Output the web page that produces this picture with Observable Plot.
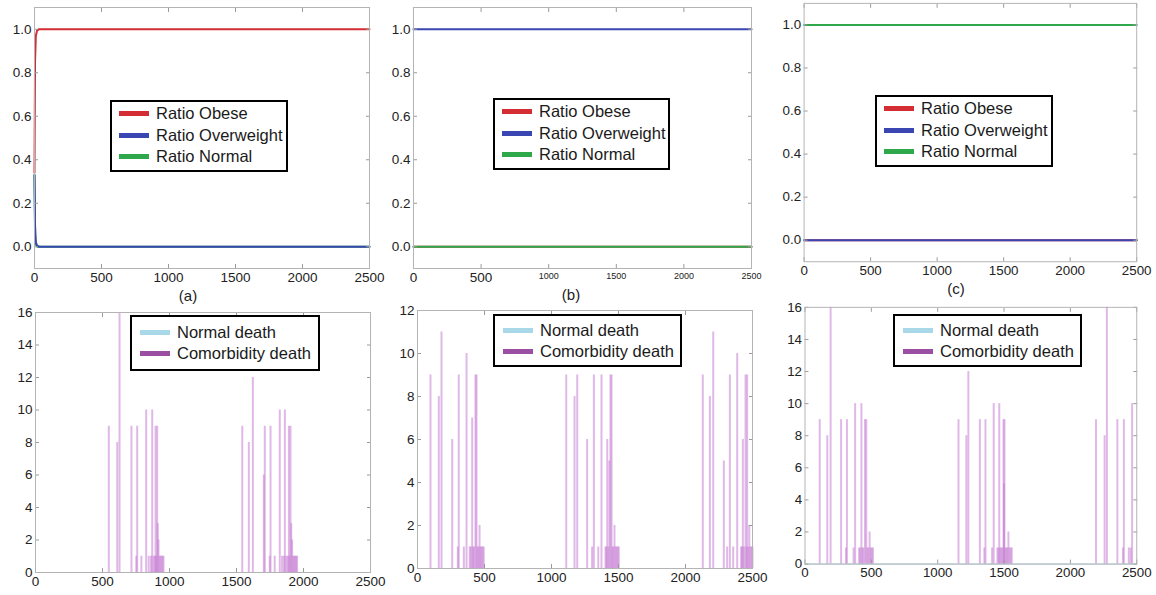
<!DOCTYPE html>
<html><head><meta charset="utf-8">
<script src="https://cdn.jsdelivr.net/npm/d3@7"></script>
<script src="https://cdn.jsdelivr.net/npm/@observablehq/plot@0.6"></script>
<style>
body{margin:0;background:#fff;}
#root{position:relative;width:1156px;height:595px;overflow:hidden;font-family:"Liberation Sans",Arial,sans-serif;}
.panel{position:absolute;}
.panel svg{overflow:visible;}
.legend{position:absolute;background:#fff;border:2px solid #000;box-sizing:border-box;font-size:16.5px;color:#1a1a1a;}
.row{position:absolute;display:flex;align-items:center;white-space:nowrap;}
.sw{display:inline-block;width:30px;height:5px;margin-right:7px;}
.cap{position:absolute;font-size:15px;color:#222;transform:translate(-50%,-50%);}
</style></head><body><div id="root"></div>
<script>
// ---------- data ----------
const ratioNames = ["Ratio Obese", "Ratio Overweight", "Ratio Normal"];
const ratioColors = ["#d42d33", "#3a47b3", "#2ea84a"];
const drawOrder = ["Ratio Obese", "Ratio Normal", "Ratio Overweight"];

const timeA = [0, 4, 10, 20, 35, 2500];
const obeseA = [0.34, 0.85, 0.97, 0.995, 1.0, 1.0];
const overweightA = [0.33, 0.10, 0.02, 0.005, 0.0, 0.0];
const normalA = [0.33, 0.05, 0.01, 0.0, 0.0, 0.0];

const timeB = [0, 2500];
const obeseB = [0, 0];
const overweightB = [1, 1];
const normalB = [0, 0];

const timeC = [0, 2500];
const obeseC = [0, 0];
const overweightC = [0, 0];
const normalC = [1, 1];

const deathNames = ["Normal death", "Comorbidity death"];
const deathColors = ["#a9d9e8", "#9b4fa3"];
const spikeColor = "#c77dd4";

const normalDeathTime = [0, 2500];
const normalDeathCount = [0, 0];

const comorbTimeA = [547,610,627,716,752,759,790,826,845,862,871,880,890,896,900,908,912,918,925,933,940,948,955,
  1543,1592,1622,1704,1711,1748,1754,1785,1823,1840,1855,1861,1872,1882,1891,1895,1903,1908,1915,1922,1930,1937,1945,1952];
const comorbCountA = [9,8,16,9,1,9,1,10,1,1,10,1,1,9,1,9,3,2,1,1,1,1,1,
  9,8,12,6,9,1,9,1,10,1,1,10,1,1,9,1,9,3,2,1,1,1,1,1];

const comorbTimeB = [97,159,179,259,301,308,346,366,390,398,408,415,423,433,440,448,455,463,470,478,486,494,
  1110,1172,1192,1266,1303,1316,1349,1373,1403,1410,1416,1425,1432,1440,1448,1455,1462,1470,1478,1486,1494,1502,
  2129,2182,2207,2286,2311,2331,2356,2386,2415,2422,2428,2436,2448,2455,2460,2468,2476,2484,2492,2500];
const comorbCountB = [9,8,11,6,1,9,1,10,1,1,7,1,1,9,9,1,1,2,1,1,1,1,
  9,8,9,6,1,9,1,9,1,1,6,1,5,9,9,1,1,2,1,1,1,1,
  9,8,11,5,1,9,1,10,1,1,6,1,9,1,9,1,2,1,1,1];

const comorbTimeC = [111,168,193,272,309,316,366,378,408,416,425,433,440,452,462,470,478,487,495,503,512,
  1157,1216,1231,1318,1352,1360,1410,1422,1450,1459,1464,1472,1480,1488,1496,1500,1503,1510,1518,1525,1533,1541,1550,1558,
  2193,2258,2275,2354,2396,2403,2440,2455,2465];
const comorbCountC = [9,8,16,9,1,9,1,10,1,1,10,1,1,9,9,1,1,2,1,1,1,
  9,8,12,9,1,9,1,10,1,1,10,1,1,1,9,5,9,1,1,1,2,1,1,1,
  9,8,16,9,1,9,1,1,10];

const xTicks = [0, 500, 1000, 1500, 2000, 2500];
const ratioTicks = [0, 0.2, 0.4, 0.6, 0.8, 1.0];
const deathTicks16 = [0, 2, 4, 6, 8, 10, 12, 14, 16];
const deathTicks12 = [0, 2, 4, 6, 8, 10, 12];
const captions = ["(a)", "(b)", "(c)"];

// ---------- layout helpers ----------
const root = document.getElementById("root");
const ML = 40, MR = 20, MT = 12, MB = 28;
const font = '"Liberation Sans", Arial, sans-serif';

function axes(yTicks, yFmt) {
  const common = {stroke: "#9a9a9a", tickSize: -4, label: null};
  return [
    Plot.axisX({...common, ticks: xTicks, anchor: "bottom", tickPadding: 8, tickFormat: d3.format("d"), fill: "#222"}),
    Plot.axisX({...common, ticks: xTicks, anchor: "top", tickFormat: () => ""}),
    Plot.axisY({...common, ticks: yTicks, anchor: "left", tickPadding: 7, tickFormat: yFmt, fill: "#222"}),
    Plot.axisY({...common, ticks: yTicks, anchor: "right", tickFormat: () => ""}),
    Plot.frame({stroke: "#b4b4b4"})
  ];
}

function place(svg, frame) {
  const div = document.createElement("div");
  div.className = "panel";
  div.style.left = (frame.x0 - ML) + "px";
  div.style.top = (frame.y0 - MT) + "px";
  div.appendChild(svg);
  root.appendChild(div);
}

function plotOpts(frame, yDomain, marks) {
  return {
    width: (frame.x1 - frame.x0) + ML + MR,
    height: (frame.y1 - frame.y0) + MT + MB,
    marginLeft: ML, marginRight: MR, marginTop: MT, marginBottom: MB,
    style: {fontFamily: font, fontSize: "13.5px", background: "transparent", overflow: "visible"},
    x: {domain: [0, 2500]},
    y: {domain: yDomain},
    marks
  };
}

function ratioPanel(frame, time, obese, overweight, normal) {
  const series = {"Ratio Obese": obese, "Ratio Overweight": overweight, "Ratio Normal": normal};
  const rows = drawOrder.flatMap(s => time.map((t, i) => ({t, v: series[s][i], s})));
  const svg = Plot.plot({
    ...plotOpts(frame, [-0.1, 1.1], [
      Plot.line(rows, {x: "t", y: "v", z: "s", stroke: "s", strokeWidth: 2}),
      ...axes(ratioTicks, d3.format(".1f"))
    ]),
    color: {domain: ratioNames, range: ratioColors}
  });
  place(svg, frame);
  return svg;
}

function deathPanel(frame, yMax, yTicks, times, counts) {
  const spikes = times.map((t, i) => ({t, n: counts[i]}));
  const normal = normalDeathTime.map((t, i) => ({t, n: normalDeathCount[i]}));
  const svg = Plot.plot(plotOpts(frame, [0, yMax], [
    Plot.line(normal, {x: "t", y: "n", stroke: deathColors[0], strokeWidth: 1}),
    Plot.ruleX(spikes, {x: "t", y: "n", stroke: spikeColor, strokeWidth: 2, strokeOpacity: 0.55}),
    ...axes(yTicks, d3.format("d"))
  ]));
  place(svg, frame);
  return svg;
}

function legend(box, names, colors, rowYs, swLeft) {
  const lg = document.createElement("div");
  lg.className = "legend";
  Object.assign(lg.style, {left: box.x + "px", top: box.y + "px", width: box.w + "px", height: box.h + "px"});
  names.forEach((n, i) => {
    const r = document.createElement("div");
    r.className = "row";
    r.style.left = swLeft + "px";
    r.style.top = (rowYs[i] - box.y - 2 - 11) + "px";
    r.style.height = "22px";
    const sw = document.createElement("span");
    sw.className = "sw";
    sw.style.background = colors[i];
    const tx = document.createElement("span");
    tx.textContent = n;
    r.appendChild(sw); r.appendChild(tx);
    lg.appendChild(r);
  });
  root.appendChild(lg);
}

function caption(text, x, y) {
  const c = document.createElement("div");
  c.className = "cap";
  c.textContent = text;
  c.style.left = x + "px";
  c.style.top = y + "px";
  root.appendChild(c);
}

// ---------- top row ----------
ratioPanel({x0: 34, x1: 369, y0: 7, y1: 268}, timeA, obeseA, overweightA, normalA);
const svgB = ratioPanel({x0: 413, x1: 751, y0: 7, y1: 268}, timeB, obeseB, overweightB, normalB);
ratioPanel({x0: 804, x1: 1140, y0: 3, y1: 264}, timeC, obeseC, overweightC, normalC);

// small tick labels in panel (b), as in the reference image
d3.select(svgB).selectAll("g[aria-label='x-axis tick label'] text")
  .filter(function() { return +this.textContent >= 1000; })
  .style("font-size", "9px");

legend({x: 110, y: 100, w: 178, h: 72}, ratioNames, ratioColors, [113, 135, 156], 7);
legend({x: 493, y: 98, w: 177, h: 72}, ratioNames, ratioColors, [111, 133, 154], 7);
legend({x: 875, y: 95, w: 178, h: 72}, ratioNames, ratioColors, [108, 130, 151], 7);

caption(captions[0], 188, 295);
caption(captions[1], 571, 294);
caption(captions[2], 956, 288);

// ---------- bottom row ----------
deathPanel({x0: 35, x1: 370, y0: 312, y1: 572}, 16, deathTicks16, comorbTimeA, comorbCountA);
deathPanel({x0: 417, x1: 752, y0: 310, y1: 568}, 12, deathTicks12, comorbTimeB, comorbCountB);
deathPanel({x0: 805, x1: 1141, y0: 307, y1: 567}, 16, deathTicks16, comorbTimeC, comorbCountC);

legend({x: 130, y: 315, w: 190, h: 56}, deathNames, deathColors, [332, 353], 8);
legend({x: 493, y: 314, w: 189, h: 53}, deathNames, deathColors, [330, 351], 8);
legend({x: 893, y: 314, w: 189, h: 53}, deathNames, deathColors, [330, 351], 8);
</script></body></html>
